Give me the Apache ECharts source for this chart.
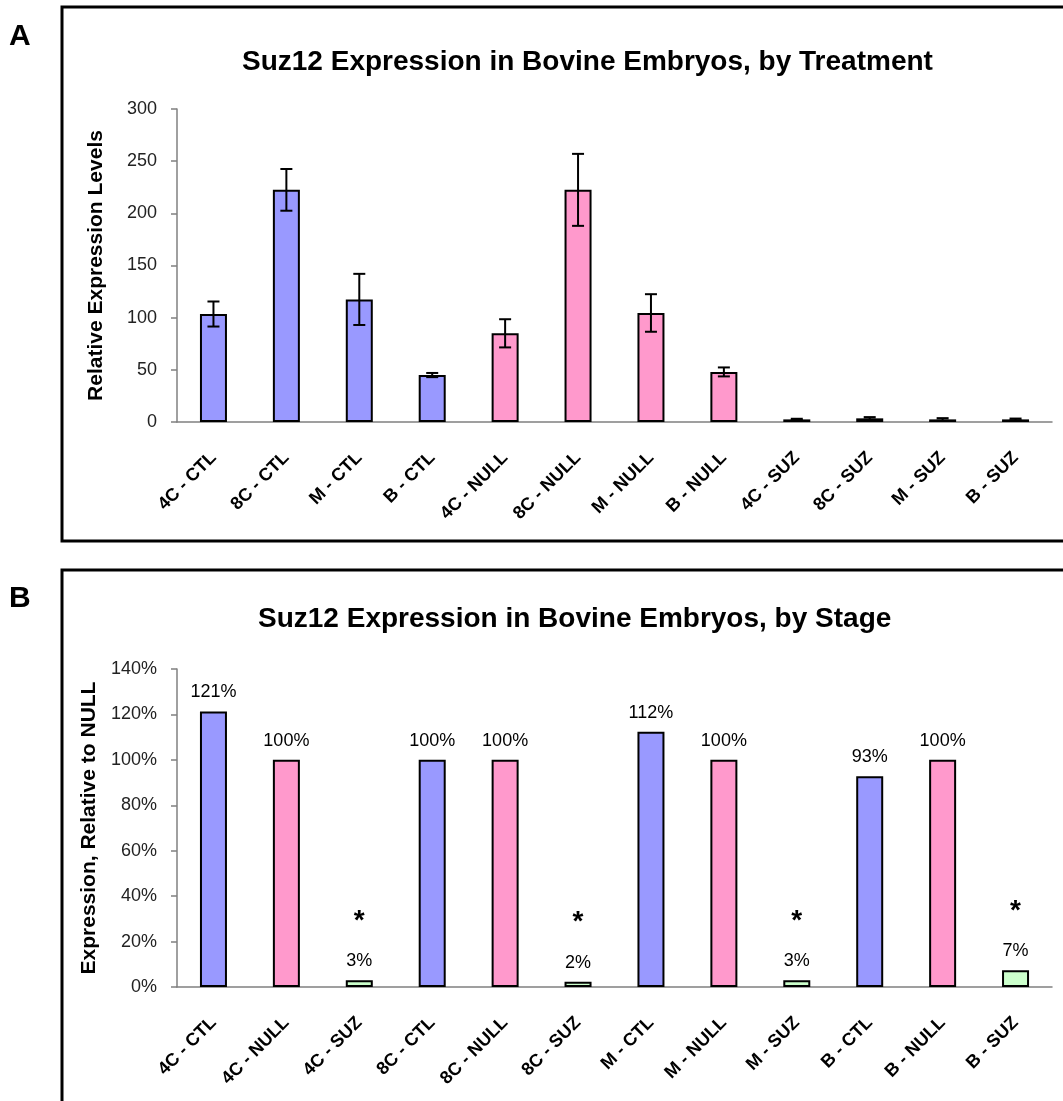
<!DOCTYPE html>
<html>
<head>
<meta charset="utf-8">
<script src="https://cdn.jsdelivr.net/npm/echarts@6/dist/echarts.min.js"></script>
<style>
html,body{margin:0;padding:0;background:#fff;}
#c{width:1063px;height:1101px;}
</style>
</head>
<body>
<div id="c"></div>
<script>
// ---- Panel A data ----
const catsA = ['4C - CTL','8C - CTL','M - CTL','B - CTL','4C - NULL','8C - NULL','M - NULL','B - NULL','4C - SUZ','8C - SUZ','M - SUZ','B - SUZ'];
const valsA = [103.5, 222.5, 117.5, 45, 85, 222.5, 104.5, 48, 2.5, 3.5, 2.5, 2.5];
const errsA = [12, 20, 24.5, 2, 13.5, 34.5, 18, 4.3, 0.6, 1.2, 1.2, 0.8];
const groupA = ['CTL','CTL','CTL','CTL','NULL','NULL','NULL','NULL','SUZ','SUZ','SUZ','SUZ'];
const ticksA = [0, 50, 100, 150, 200, 250, 300];

// ---- Panel B data ----
const catsB = ['4C - CTL','4C - NULL','4C - SUZ','8C - CTL','8C - NULL','8C - SUZ','M - CTL','M - NULL','M - SUZ','B - CTL','B - NULL','B - SUZ'];
const valsB = [121.3, 100, 3, 100, 100, 2.3, 112.4, 100, 3, 92.8, 100, 7.4];
const groupB = ['CTL','NULL','SUZ','CTL','NULL','SUZ','CTL','NULL','SUZ','CTL','NULL','SUZ'];
const sigB = [false,false,true,false,false,true,false,false,true,false,false,true];
const ticksB = [0, 20, 40, 60, 80, 100, 120, 140];

const groupColor = {CTL:'#9999FF', NULL:'#FF99CC', SUZ:'#CCFFCC'};
const FONT = "'Liberation Sans', Arial, sans-serif";

const chart = echarts.init(document.getElementById('c'), null, {renderer:'canvas'});

function axisX(cats, gi){
  return {
    type:'category', data:cats, gridIndex:gi,
    axisLine:{lineStyle:{color:'#808080', width:1.5}},
    axisTick:{length:6, lineStyle:{color:'#808080', width:1.5}},
    axisLabel:{rotate:45, interval:0, margin:33, fontFamily:FONT, fontWeight:'bold', fontSize:18, color:'#000', padding:[27,0,0,0]}
  };
}
function axisY(gi, ticks, name, fmt, gap){
  return {
    type:'value', gridIndex:gi, min:ticks[0], max:ticks[ticks.length-1], interval:ticks[1]-ticks[0],
    name:name, nameLocation:'middle', nameGap:gap,
    nameTextStyle:{fontFamily:FONT, fontWeight:'bold', fontSize:21, color:'#000'},
    axisLine:{show:true, lineStyle:{color:'#808080', width:1.5}},
    axisTick:{show:true, length:6, lineStyle:{color:'#808080', width:1.5}},
    splitLine:{show:false},
    axisLabel:{margin:20, fontFamily:FONT, fontSize:18, color:'#222', formatter:fmt}
  };
}

const errData = valsA.map((v,i)=>[i, v-errsA[i], v+errsA[i]]);

const option = {
  backgroundColor:'#fff',
  animation:false,
  title:[
    {text:'Suz12 Expression in Bovine Embryos, by Treatment', left:237, top:43,
     textStyle:{fontFamily:FONT, fontWeight:'bold', fontSize:28, color:'#000'}},
    {text:'Suz12 Expression in Bovine Embryos, by Stage', left:253, top:600,
     textStyle:{fontFamily:FONT, fontWeight:'bold', fontSize:28, color:'#000'}}
  ],
  graphic:[
    {type:'rect', shape:{x:62, y:7, width:1030, height:534}, style:{fill:'none', stroke:'#000', lineWidth:3}, silent:true},
    {type:'rect', shape:{x:62, y:570, width:1030, height:560}, style:{fill:'none', stroke:'#000', lineWidth:3}, silent:true},
    {type:'text', left:9, top:22, style:{text:'A', fontFamily:FONT, fontWeight:'bold', fontSize:30, fill:'#000'}},
    {type:'text', left:9, top:584, style:{text:'B', fontFamily:FONT, fontWeight:'bold', fontSize:30, fill:'#000'}}
  ],
  grid:[
    {left:177, right:11, top:109, bottom:679},
    {left:177, right:11, top:669, bottom:114}
  ],
  xAxis:[axisX(catsA,0), axisX(catsB,1)],
  yAxis:[axisY(0, ticksA, 'Relative Expression Levels', '{value}', 70),
         axisY(1, ticksB, 'Expression, Relative to NULL', '{value}%', 73)],
  series:[
    {
      type:'bar', xAxisIndex:0, yAxisIndex:0, barWidth:27,
      data: valsA.map((v,i)=>({value:v, itemStyle:{color:groupColor[groupA[i]]}})),
      itemStyle:{borderColor:'#000', borderWidth:2}
    },
    {
      type:'custom', xAxisIndex:0, yAxisIndex:0, z:5,
      data: errData,
      renderItem:function(params, api){
        const x = api.value(0);
        const lo = api.coord([x, api.value(1)]);
        const hi = api.coord([x, api.value(2)]);
        const hw = 6;
        const st = {stroke:'#000', lineWidth:2};
        return {type:'group', children:[
          {type:'line', shape:{x1:lo[0], y1:lo[1], x2:hi[0], y2:hi[1]}, style:st},
          {type:'line', shape:{x1:hi[0]-hw, y1:hi[1], x2:hi[0]+hw, y2:hi[1]}, style:st},
          {type:'line', shape:{x1:lo[0]-hw, y1:lo[1], x2:lo[0]+hw, y2:lo[1]}, style:st}
        ]};
      }
    },
    {
      type:'bar', xAxisIndex:1, yAxisIndex:1, barWidth:27,
      data: valsB.map((v,i)=>({value:v, itemStyle:{color:groupColor[groupB[i]]}})),
      itemStyle:{borderColor:'#000', borderWidth:2},
      label:{
        show:true, position:'top', distance:9,
        formatter:function(p){
          const t = Math.round(p.value) + '%';
          return sigB[p.dataIndex] ? '{s|*}\n{v|' + t + '}' : '{v|' + t + '}';
        },
        rich:{
          v:{fontFamily:FONT, fontSize:18, color:'#000', lineHeight:20},
          s:{fontFamily:FONT, fontWeight:'bold', fontSize:28, color:'#000', lineHeight:60}
        }
      }
    }
  ]
};
chart.setOption(option);
</script>
</body>
</html>
